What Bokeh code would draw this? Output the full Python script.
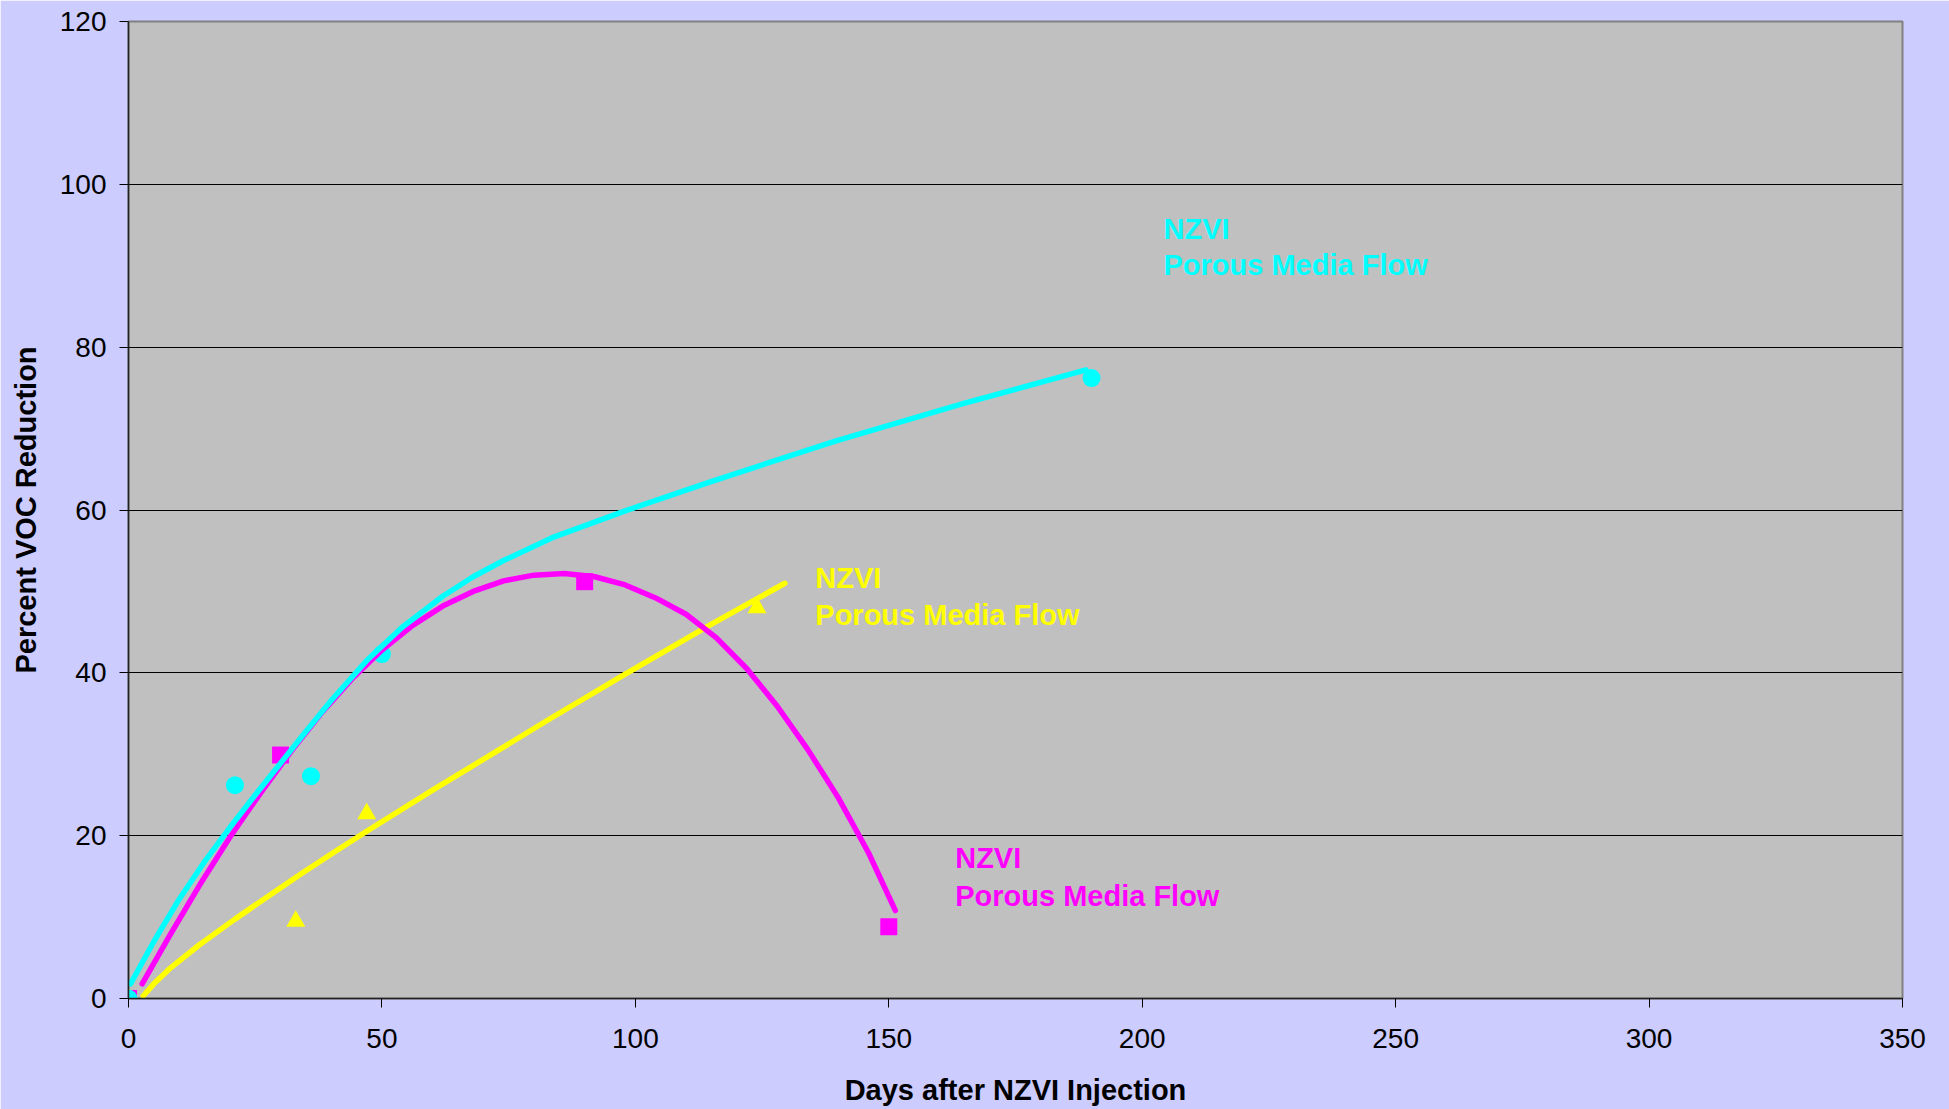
from bokeh.plotting import figure
from bokeh.models import Range1d, FixedTicker
from bokeh.core.properties import value
from bokeh.embed import file_html
from bokeh.resources import INLINE

# ---- data ----
cyan_days = [0, 21, 36, 50, 190]
cyan_pct = [0, 26.2, 27.3, 42.3, 76.2]
magenta_days = [0, 30, 90, 150]
magenta_pct = [0, 29.9, 51.2, 8.8]
yellow_days = [0, 33, 47, 124]
yellow_pct = [0, 9.5, 22.7, 48.0]

# trend lines
cyan_trend_days = [0.4, 5, 10, 15, 20, 25, 30, 35, 40, 47, 54, 62, 68, 74, 84, 98, 114.5, 139.6, 164.8, 188.9]
cyan_trend_pct = [1.8, 7.0, 12.2, 16.8, 21.0, 25.0, 28.9, 32.8, 36.6, 41.5, 45.6, 49.4, 51.8, 53.8, 56.7, 59.9, 63.4, 68.5, 73.1, 77.2]
magenta_trend_days = [2.7, 8, 14, 20, 26, 32, 38, 44, 50, 56, 62, 68, 74, 80, 86, 92, 98, 104, 110, 116, 122, 128, 134, 140, 146, 151.3]
magenta_trend_pct = [1.8, 7.6, 13.9, 19.8, 25.2, 30.3, 35.0, 39.2, 42.8, 45.8, 48.2, 50.0, 51.3, 52.0, 52.2, 51.8, 50.8, 49.2, 47.2, 44.3, 40.5, 35.9, 30.6, 24.7, 17.9, 10.8]
yellow_trend_days = [2.9, 5, 8, 14, 21, 28, 34, 41, 47, 60, 73, 83, 98, 114.5, 129.5]
yellow_trend_pct = [0.3, 1.8, 3.6, 6.6, 9.75, 12.75, 15.3, 18.15, 20.55, 25.6, 30.5, 34.3, 39.85, 45.8, 51.0]

x_ticks = [0, 50, 100, 150, 200, 250, 300, 350]
y_ticks = [0, 20, 40, 60, 80, 100, 120]

label_lines = ["NZVI", "Porous Media Flow"]
cyan_label_days = [204.2, 204.2]
cyan_label_pct = [94.55, 90.05]
yellow_label_days = [135.5, 135.5]
yellow_label_pct = [51.65, 47.15]
magenta_label_days = [163.1, 163.1]
magenta_label_pct = [17.25, 12.65]

CYAN = "#00FFFF"
MAGENTA = "#FF00FF"
YELLOW = "#FFFF00"
FONT = "Liberation Sans"

p = figure(width=1949, height=1109,
           x_range=Range1d(0, 350), y_range=Range1d(0, 120),
           output_backend="svg", toolbar_location=None,
           min_border_left=128, min_border_right=47,
           min_border_top=21, min_border_bottom=111)

p.background_fill_color = "#C0C0C0"
p.border_fill_color = "#CCCCFF"
p.outline_line_color = "#808080"
p.outline_line_width = 2

p.xgrid.visible = False
p.ygrid.grid_line_color = "#000000"
p.ygrid.grid_line_width = 1
p.ygrid.ticker = FixedTicker(ticks=y_ticks)

p.xaxis.ticker = FixedTicker(ticks=x_ticks)
p.yaxis.ticker = FixedTicker(ticks=y_ticks)
for ax in (p.xaxis[0], p.yaxis[0]):
    ax.axis_line_color = "#222222"
    ax.axis_line_width = 1.5
    ax.major_tick_line_color = "#000000"
    ax.major_tick_line_width = 1
    ax.major_tick_in = 0
    ax.major_tick_out = 9
    ax.minor_tick_line_color = None
    ax.major_label_text_font = FONT
    ax.major_label_text_font_size = "28px"
    ax.major_label_text_color = "#000000"
    ax.axis_label_text_font = FONT
    ax.axis_label_text_font_size = "29px"
    ax.axis_label_text_font_style = "bold"
    ax.axis_label_text_color = "#000000"

p.xaxis.axis_label = "Days after NZVI Injection"
p.yaxis.axis_label = "Percent VOC Reduction"
p.xaxis.major_label_standoff = 21
p.yaxis.major_label_standoff = 13
p.xaxis.axis_label_standoff = 23
p.yaxis.axis_label_standoff = 15

# markers
p.scatter(yellow_days, yellow_pct, marker="triangle", size=19, fill_color=YELLOW, line_color=None)
p.scatter(magenta_days, magenta_pct, marker="square", size=17, fill_color=MAGENTA, line_color=None)
p.scatter(cyan_days, cyan_pct, marker="circle", size=18, fill_color=CYAN, line_color=None)

# trend lines
p.line(yellow_trend_days, yellow_trend_pct, line_color=YELLOW, line_width=5.5, line_cap="round", line_join="round")
p.line(magenta_trend_days, magenta_trend_pct, line_color=MAGENTA, line_width=5.5, line_cap="round", line_join="round")
p.line(cyan_trend_days, cyan_trend_pct, line_color=CYAN, line_width=5.5, line_cap="round", line_join="round")

# labels
for xs, ys, col in ((cyan_label_days, cyan_label_pct, CYAN),
                    (yellow_label_days, yellow_label_pct, YELLOW),
                    (magenta_label_days, magenta_label_pct, MAGENTA)):
    p.text(x=xs, y=ys, text=label_lines, text_color=col,
           text_font=value(FONT), text_font_style="bold", text_font_size="29px",
           text_align="left", text_baseline="alphabetic")

open("out.html", "w").write(file_html(p, INLINE))
